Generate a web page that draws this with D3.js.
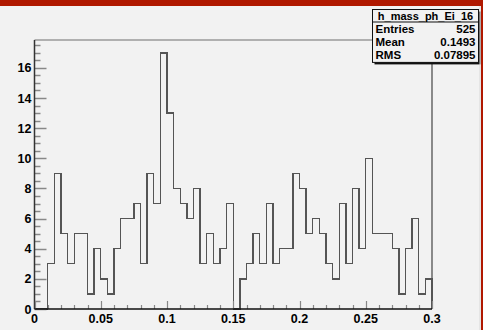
<!DOCTYPE html>
<html>
<head>
<meta charset="utf-8">
<script src="https://cdn.jsdelivr.net/npm/d3@7"></script>
<style>
  html, body { margin: 0; padding: 0; background: #f2f2f2; }
  svg { display: block; }
  text { font-family: "Liberation Sans", Arial, Helvetica, sans-serif; font-weight: bold; }
</style>
</head>
<body>
<svg id="chart" width="483" height="330"></svg>
<script>
// Histogram h_mass_ph_Ei_16: 60 bins from 0 to 0.3
const binLow = 0;
const binHigh = 0.3;
const binCounts = [
  0, 0, 3, 9, 5, 3, 5, 5, 1, 4,
  2, 1, 4, 6, 6, 7, 3, 9, 7, 17,
  13, 8, 7, 6, 8, 3, 5, 3, 4, 7,
  0, 2, 3, 5, 3, 7, 3, 4, 4, 9,
  8, 5, 6, 5, 3, 2, 7, 3, 8, 4,
  10, 5, 5, 5, 4, 1, 4, 6, 1, 2
];
const xTicks = [0, 0.05, 0.1, 0.15, 0.2, 0.25, 0.3];
const yTicks = [0, 2, 4, 6, 8, 10, 12, 14, 16];
const statsTitle = "h_mass_ph_Ei_16";
const statsRows = [["Entries", "525"], ["Mean", "0.1493"], ["RMS", "0.07895"]];

const svg = d3.select("#chart");
const W = 483, H = 330;

const x = d3.scaleLinear().domain([binLow, binHigh]).range([34.5, 432]);
const yMax = d3.max(binCounts) * 1.05;
const y = d3.scaleLinear().domain([0, yMax]).range([309, 40]);

// pad background
svg.append("rect").attr("x", 0).attr("y", 0).attr("width", W).attr("height", H).attr("fill", "#f2f2f2");

// frame
svg.append("line").attr("x1", x(binLow)).attr("x2", x(binHigh)).attr("y1", y(yMax)).attr("y2", y(yMax))
  .attr("stroke", "#9a9a9a").attr("stroke-width", 1.5);
svg.append("line").attr("x1", x(binHigh)).attr("x2", x(binHigh)).attr("y1", y(yMax)).attr("y2", y(0))
  .attr("stroke", "#444").attr("stroke-width", 1.2);

// histogram outline (step)
const bw = (binHigh - binLow) / binCounts.length;
const pts = [[x(binLow), y(0)]];
binCounts.forEach((c, i) => {
  pts.push([x(binLow + i * bw), y(c)]);
  pts.push([x(binLow + (i + 1) * bw), y(c)]);
});
pts.push([x(binHigh), y(0)]);
svg.append("path")
  .attr("d", d3.line()(pts))
  .attr("fill", "none")
  .attr("stroke", "#555")
  .attr("stroke-width", 1.4)
  .attr("shape-rendering", "crispEdges");

// y axis
const yMinor = d3.range(0, yMax, 0.5);
const yAxis = svg.append("g");
yAxis.selectAll("line.minor").data(yMinor).join("line")
  .attr("x1", x(binLow)).attr("x2", d => x(binLow) + (d % 2 === 0 ? 12 : 6))
  .attr("y1", d => Math.round(y(d)) + 0.5).attr("y2", d => Math.round(y(d)) + 0.5)
  .attr("stroke", "#888").attr("stroke-width", 1.5);
yAxis.append("line").attr("x1", x(binLow)).attr("x2", x(binLow)).attr("y1", y(0)).attr("y2", y(yMax))
  .attr("stroke", "#333").attr("stroke-width", 1.5);
yAxis.selectAll("text").data(yTicks).join("text")
  .attr("x", x(binLow) - 3).attr("y", d => y(d) + 4.5)
  .attr("text-anchor", "end").attr("font-size", 12.5).attr("fill", "#000")
  .text(d => d);

// x axis
const xMinor = d3.range(0, 31).map(i => i * 0.01);
const xAxis = svg.append("g");
xAxis.selectAll("line").data(xMinor).join("line")
  .attr("x1", d => Math.round(x(d)) + 0.5).attr("x2", d => Math.round(x(d)) + 0.5)
  .attr("y1", y(0)).attr("y2", (d, i) => y(0) - (i % 5 === 0 ? 8 : 4))
  .attr("stroke", "#888").attr("stroke-width", 1.2);
xAxis.append("line").attr("x1", x(binLow)).attr("x2", x(binHigh)).attr("y1", y(0)).attr("y2", y(0))
  .attr("stroke", "#111").attr("stroke-width", 1.5);
xAxis.selectAll("text").data(xTicks).join("text")
  .attr("x", d => x(d)).attr("y", y(0) + 14)
  .attr("text-anchor", "middle").attr("font-size", 12.5).attr("fill", "#000")
  .text(d => d);

// stats box
const bx = 372.5, by = 9.5, bW = 106, rowH = 12.8, titleH = 12.5;
const bH = titleH + rowH * statsRows.length + 2;
svg.append("rect").attr("x", bx + 2).attr("y", by + 2).attr("width", bW).attr("height", bH).attr("fill", "#111");
svg.append("rect").attr("x", bx).attr("y", by).attr("width", bW).attr("height", bH)
  .attr("fill", "#f2f2f2").attr("stroke", "#111").attr("stroke-width", 1);
svg.append("line").attr("x1", bx).attr("x2", bx + bW).attr("y1", by + titleH).attr("y2", by + titleH)
  .attr("stroke", "#111").attr("stroke-width", 1);
svg.append("text").attr("x", bx + bW / 2).attr("y", by + titleH - 2.5)
  .attr("text-anchor", "middle").attr("font-size", 11).text(statsTitle);
statsRows.forEach((r, i) => {
  const ty = by + titleH + rowH * (i + 1) - 1.5;
  svg.append("text").attr("x", bx + 3).attr("y", ty).attr("font-size", 11.5).text(r[0]);
  svg.append("text").attr("x", bx + bW - 3).attr("y", ty).attr("text-anchor", "end").attr("font-size", 11.5).text(r[1]);
});

// canvas border
svg.append("rect").attr("x", 0).attr("y", 0).attr("width", W).attr("height", 6).attr("fill", "#b01800");
svg.append("rect").attr("x", 481).attr("y", 0).attr("width", 2).attr("height", H).attr("fill", "#b01800");
svg.append("line").attr("x1", 480).attr("x2", 480).attr("y1", 6).attr("y2", H).attr("stroke", "#d8d8d8").attr("stroke-width", 1);
</script>
</body>
</html>
